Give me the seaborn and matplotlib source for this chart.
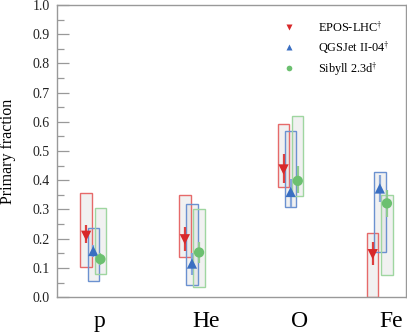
import numpy as np
import pandas as pd
import matplotlib
matplotlib.use("Agg")
import matplotlib.pyplot as plt
from matplotlib.patches import Rectangle
from matplotlib.ticker import MultipleLocator, FormatStrFormatter
import seaborn as sns

# primaries, placed at ln(A)
ELEMENTS = ["p", "He", "O", "Fe"]
MASS_NUMBER = [1, 4, 16, 56]

MODELS = ["EPOS-LHC", "QGSJet II-04", "Sibyll 2.3d"]

epos_frac = [0.210, 0.198, 0.437, 0.147]
epos_stat_lo = [0.185, 0.159, 0.389, 0.110]
epos_stat_hi = [0.247, 0.241, 0.490, 0.190]
epos_sys_lo = [0.104, 0.139, 0.376, 0.000]
epos_sys_hi = [0.357, 0.350, 0.594, 0.221]

qgs_frac = [0.158, 0.115, 0.360, 0.372]
qgs_stat_lo = [0.138, 0.075, 0.310, 0.326]
qgs_stat_hi = [0.180, 0.150, 0.406, 0.418]
qgs_sys_lo = [0.056, 0.043, 0.308, 0.153]
qgs_sys_hi = [0.237, 0.318, 0.568, 0.430]

sib_frac = [0.130, 0.153, 0.398, 0.321]
sib_stat_lo = [0.110, 0.116, 0.355, 0.273]
sib_stat_hi = [0.150, 0.190, 0.449, 0.366]
sib_sys_lo = [0.080, 0.033, 0.347, 0.075]
sib_sys_hi = [0.306, 0.302, 0.621, 0.349]

MARKER_COL = {"EPOS-LHC": "#d8282a", "QGSJet II-04": "#3a6fc2", "Sibyll 2.3d": "#6cc070"}
BOX_COL = {"EPOS-LHC": "#e66a6a", "QGSJet II-04": "#6b91d0", "Sibyll 2.3d": "#9fd6a0"}
ERR_COL = {"EPOS-LHC": "#dd4040", "QGSJet II-04": "#86a6da", "Sibyll 2.3d": "#8fcb91"}
MARKERS = {"EPOS-LHC": "v", "QGSJet II-04": "^", "Sibyll 2.3d": "o"}
OFFSET = {"EPOS-LHC": -0.1, "QGSJet II-04": 0.0, "Sibyll 2.3d": 0.1}
BOX_W = 0.16

sns.set_theme(style="ticks")
plt.rcParams["font.family"] = ["Liberation Serif", "DejaVu Serif"]
plt.rcParams["mathtext.fontset"] = "stix"
plt.rcParams["text.color"] = "black"
plt.rcParams["axes.labelcolor"] = "black"
plt.rcParams["ytick.labelcolor"] = "#222222"
plt.rcParams["xtick.labelcolor"] = "black"

lnA = np.log(MASS_NUMBER)
rows = []
series = {
    "EPOS-LHC": (epos_frac, epos_stat_lo, epos_stat_hi, epos_sys_lo, epos_sys_hi),
    "QGSJet II-04": (qgs_frac, qgs_stat_lo, qgs_stat_hi, qgs_sys_lo, qgs_sys_hi),
    "Sibyll 2.3d": (sib_frac, sib_stat_lo, sib_stat_hi, sib_sys_lo, sib_sys_hi),
}
for m in MODELS:
    f, slo, shi, ylo, yhi = series[m]
    for i, el in enumerate(ELEMENTS):
        rows.append(dict(model=m, element=el, x=lnA[i] + OFFSET[m], frac=f[i],
                         stat_lo=slo[i], stat_hi=shi[i], sys_lo=ylo[i], sys_hi=yhi[i]))
df = pd.DataFrame(rows)

fig = plt.figure(figsize=(4.07, 3.32), dpi=100)
ax = fig.add_axes([0.140, 0.105, 0.857, 0.880])

# systematic boxes
for _, r in df.iterrows():
    ax.add_patch(Rectangle((r.x - BOX_W / 2, r.sys_lo), BOX_W, r.sys_hi - r.sys_lo,
                           facecolor="#d8d8d8", alpha=0.35, edgecolor="none", zorder=1))
    ax.add_patch(Rectangle((r.x - BOX_W / 2, r.sys_lo), BOX_W, r.sys_hi - r.sys_lo,
                           facecolor="none", edgecolor=BOX_COL[r.model], lw=1.0, zorder=2))

# statistical error bars
for m in MODELS:
    d = df[df.model == m]
    ax.vlines(d.x, d.stat_lo, d.stat_hi, color=ERR_COL[m], lw=1.6, zorder=3)

sns.scatterplot(data=df, x="x", y="frac", hue="model", style="model",
                palette=MARKER_COL, markers=MARKERS, s=55, edgecolor="none",
                ax=ax, zorder=4)

handles, labels = ax.get_legend_handles_labels()
ax.legend(handles, [l + r"$^{\dagger}$" for l in labels], loc="upper left",
          bbox_to_anchor=(0.598, 0.985), frameon=False, fontsize=8.8,
          markerscale=0.55, handletextpad=1.4, labelspacing=0.38)

ax.set_xlim(-0.51, 4.39)
ax.set_ylim(0, 1)
ax.set_xlabel("")
ax.set_ylabel("Primary fraction", fontsize=11.5, labelpad=12)
ax.set_xticks(lnA)
ax.set_xticklabels(ELEMENTS, fontsize=17, ha="left")
ax.tick_params(axis="x", length=0, pad=10)
ax.yaxis.set_major_locator(MultipleLocator(0.1))
ax.yaxis.set_minor_locator(MultipleLocator(0.05))
ax.yaxis.set_major_formatter(FormatStrFormatter("%.1f"))
ax.tick_params(axis="y", which="major", direction="in", length=8.4, width=0.9,
               color="#999999", labelsize=10, pad=5)
ax.tick_params(axis="y", which="minor", direction="in", length=4.8, width=0.9,
               color="#999999")
for s in ax.spines.values():
    s.set_color("#999999")
    s.set_linewidth(1.0)

fig.savefig("out.png", dpi=100)
